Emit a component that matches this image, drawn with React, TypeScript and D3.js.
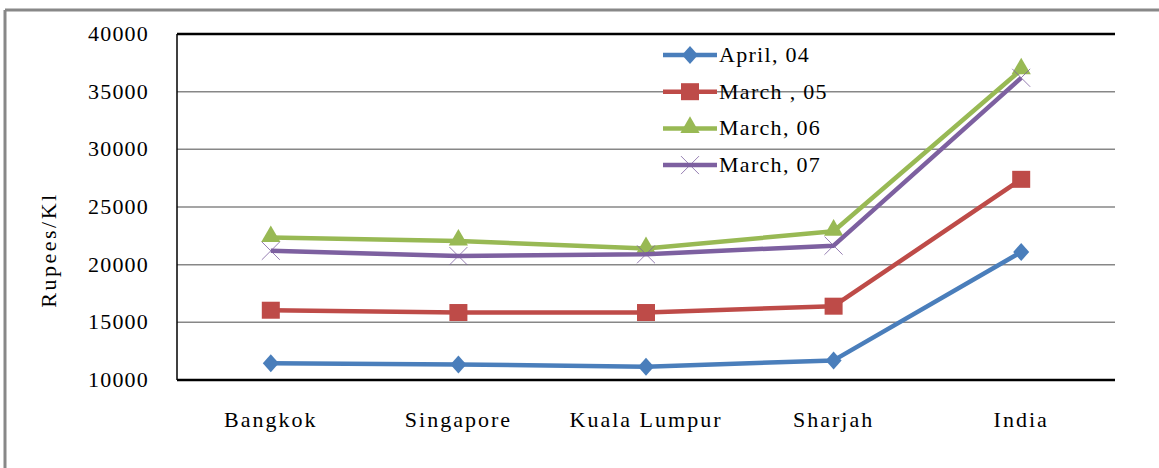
import React from 'react';
import * as d3 from 'd3';

const categories = ['Bangkok', 'Singapore', 'Kuala Lumpur', 'Sharjah', 'India'];
const april04 = [11450, 11350, 11150, 11700, 21100];
const march05 = [16050, 15850, 15850, 16400, 27400];
const march06 = [22350, 22050, 21400, 22900, 36900];
const march07 = [21200, 20750, 20900, 21650, 36200];
const yTicks = [10000, 15000, 20000, 25000, 30000, 35000, 40000];

const series = [
  { name: 'April, 04', values: april04, color: '#4A7EBB', marker: 'diamond' },
  { name: 'March , 05', values: march05, color: '#BE4B48', marker: 'square' },
  { name: 'March, 06', values: march06, color: '#98B954', marker: 'triangle' },
  { name: 'March, 07', values: march07, color: '#7D60A0', marker: 'x' },
];

const W = 1159;
const H = 468;
const left = 177, right = 1115, top = 34, bottom = 380;
const font = 'Liberation Serif, DejaVu Serif, serif';

function Marker({ type, x, y, color }: { type: string; x: number; y: number; color: string }) {
  if (type === 'diamond') {
    return <path d={`M${x},${y - 9}L${x + 8},${y}L${x},${y + 9}L${x - 8},${y}Z`} fill={color} />;
  }
  if (type === 'square') {
    return <rect x={x - 9} y={y - 8.5} width={18} height={17} fill={color} />;
  }
  if (type === 'triangle') {
    const s = d3.symbol().type(d3.symbolTriangle).size(160)();
    return <path d={s || ''} transform={`translate(${x},${y - 1})`} fill={color} />;
  }
  return (
    <g stroke={color} strokeWidth={1} opacity={0.8}>
      <line x1={x - 9} y1={y - 9} x2={x + 9} y2={y + 9} />
      <line x1={x - 9} y1={y + 9} x2={x + 9} y2={y - 9} />
    </g>
  );
}

export default function App() {
  const x = d3.scaleBand().domain(categories).range([left, right]);
  const y = d3.scaleLinear().domain([10000, 40000]).range([bottom, top]);
  const cx = (c: string) => (x(c) || 0) + x.bandwidth() / 2;
  const line = d3.line<number>()
    .x((_, i) => cx(categories[i]))
    .y(d => y(d));

  const txt = { fontFamily: font, fontSize: 22, fill: '#000' };

  return (
    <svg width={W} height={H} style={{ position: 'absolute', left: 0, top: 0, background: '#fff' }}>
      {/* outer frame, only top/left visible */}
      <line x1={5} y1={10} x2={W} y2={10} stroke="#888" strokeWidth={3} />
      <line x1={5} y1={10} x2={5} y2={H} stroke="#888" strokeWidth={3} />

      {yTicks.filter(t => t !== 10000 && t !== 40000).map(t => (
        <line key={t} x1={left} x2={right} y1={y(t)} y2={y(t)} stroke="#878787" strokeWidth={1.5} />
      ))}
      <line x1={left} x2={right} y1={top} y2={top} stroke="#000" strokeWidth={2.5} />
      <line x1={left} x2={right} y1={bottom} y2={bottom} stroke="#000" strokeWidth={2.5} />
      <line x1={left} x2={left} y1={top} y2={bottom} stroke="#000" strokeWidth={1.5} />

      {yTicks.map(t => (
        <text key={t} x={149} y={y(t) + 7} textAnchor="end" style={txt} letterSpacing={1.2}>{t}</text>
      ))}
      <text transform="translate(56,250) rotate(-90)" textAnchor="middle" style={txt} letterSpacing={2.5}>Rupees/Kl</text>

      {categories.map(c => (
        <text key={c} x={cx(c)} y={427} textAnchor="middle" style={txt} letterSpacing={2}>{c}</text>
      ))}

      {series.map(s => (
        <g key={s.name}>
          <path d={line(s.values) || ''} fill="none" stroke={s.color} strokeWidth={4.5} strokeLinejoin="round" />
          {s.values.map((v, i) => (
            <Marker key={i} type={s.marker} x={cx(categories[i])} y={y(v)} color={s.color} />
          ))}
        </g>
      ))}

      {series.map((s, i) => {
        const ly = 55 + i * 36.7;
        return (
          <g key={s.name}>
            <line x1={663} x2={717} y1={ly} y2={ly} stroke={s.color} strokeWidth={4.5} />
            <Marker type={s.marker} x={690} y={ly} color={s.color} />
            <text x={719} y={ly + 7} style={txt} letterSpacing={1.3}>{s.name}</text>
          </g>
        );
      })}
    </svg>
  );
}
